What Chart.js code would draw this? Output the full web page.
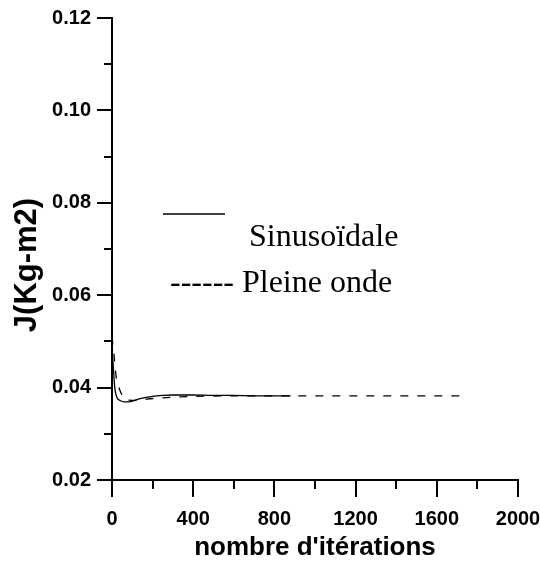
<!DOCTYPE html>
<html>
<head>
<meta charset="utf-8">
<script src="https://cdn.jsdelivr.net/npm/chart.js@4.4.1/dist/chart.umd.min.js"></script>
<style>
  html, body { margin: 0; padding: 0; background: #fff; }
  #wrap { width: 540px; height: 563px; }
</style>
</head>
<body>
<div id="wrap"><canvas id="c" width="540" height="563"></canvas></div>
<script>
// ---- data ----
const sinIter = [0, 5, 10, 15, 25, 40, 60, 80, 100, 150, 200, 250, 300, 400, 500, 600, 700, 800, 880];
const sinJ    = [0.0480, 0.0455, 0.0420, 0.0395, 0.0378, 0.0372, 0.0369, 0.0369, 0.0371, 0.0377, 0.0381, 0.0383, 0.0384, 0.0384, 0.0383, 0.0383, 0.0382, 0.0382, 0.0382];

const pleineIter = [0, 10, 20, 30, 40, 55, 80, 120, 170, 220, 300, 400, 600, 1000, 1400, 1750];
const pleineJ    = [0.0510, 0.0470, 0.0425, 0.0406, 0.0393, 0.0380, 0.0373, 0.0372, 0.0375, 0.0377, 0.0379, 0.0381, 0.0382, 0.0382, 0.0382, 0.0382];

const seriesNames = ['Sinusoïdale', 'Pleine onde'];
const xTitle = "nombre d'itérations";
const yTitle = 'J(Kg-m2)';
const xMajorTicks = [0, 400, 800, 1200, 1600, 2000];
const xMinorTicks = [200, 600, 1000, 1400, 1800];
const yMajorTicks = [0.02, 0.04, 0.06, 0.08, 0.10, 0.12];
const yMinorTicks = [0.03, 0.05, 0.07, 0.09, 0.11];

const toPts = (xs, ys) => xs.map((x, i) => ({ x: x, y: ys[i] }));

const SANS = "'Liberation Sans', Arial, sans-serif";
const SERIF = "'Liberation Serif', 'Times New Roman', serif";

const decorPlugin = {
  id: 'decor',
  afterDraw(chart) {
    const ctx = chart.ctx;
    const xs = chart.scales.x, ys = chart.scales.y;
    const ca = chart.chartArea;
    ctx.save();
    // minor ticks
    ctx.strokeStyle = '#000';
    ctx.lineWidth = 2;
    ctx.beginPath();
    xMinorTicks.forEach(v => {
      const px = Math.round(xs.getPixelForValue(v));
      ctx.moveTo(px, ca.bottom);
      ctx.lineTo(px, ca.bottom + 9);
    });
    yMinorTicks.forEach(v => {
      const py = Math.round(ys.getPixelForValue(v));
      ctx.moveTo(ca.left - 8, py);
      ctx.lineTo(ca.left, py);
    });
    ctx.stroke();

    // y axis title
    ctx.fillStyle = '#000';
    ctx.font = "bold 31px " + SANS;
    ctx.textAlign = 'center';
    ctx.textBaseline = 'middle';
    ctx.translate(27, 265);
    ctx.rotate(-Math.PI / 2);
    ctx.fillText(yTitle, 0, 0);
    ctx.restore();

    // legend (inside plot area)
    ctx.save();
    ctx.strokeStyle = '#000';
    ctx.lineWidth = 1.5;
    ctx.beginPath();
    ctx.moveTo(163, 214);
    ctx.lineTo(225, 214);
    ctx.stroke();
    ctx.fillStyle = '#000';
    ctx.font = "32px " + SERIF;
    ctx.textAlign = 'left';
    ctx.textBaseline = 'alphabetic';
    ctx.fillText(seriesNames[0], 249, 246);
    ctx.fillText('------ ' + seriesNames[1], 170, 292);
    ctx.restore();
  }
};

new Chart(document.getElementById('c'), {
  type: 'line',
  data: {
    datasets: [
      {
        label: seriesNames[0],
        data: toPts(sinIter, sinJ),
        borderColor: '#000',
        borderWidth: 1.3,
        pointRadius: 0,
        fill: false,
        cubicInterpolationMode: 'monotone'
      },
      {
        label: seriesNames[1],
        data: toPts(pleineIter, pleineJ),
        borderColor: '#000',
        borderWidth: 1.3,
        borderDash: [8, 9],
        pointRadius: 0,
        fill: false,
        cubicInterpolationMode: 'monotone'
      }
    ]
  },
  options: {
    responsive: false,
    animation: false,
    devicePixelRatio: 1,
    layout: { padding: { top: 18, right: 22, left: 0, bottom: 0 } },
    plugins: {
      legend: { display: false },
      tooltip: { enabled: false }
    },
    scales: {
      x: {
        type: 'linear',
        min: 0,
        max: 2000,
        afterFit(s) { s.height = 83; s.paddingLeft = 0; s.paddingRight = 0; },
        afterBuildTicks(s) { s.ticks = xMajorTicks.map(v => ({ value: v })); },
        ticks: {
          color: '#000',
          font: { family: SANS, size: 20, weight: 'bold' },
          padding: 10,
          maxRotation: 0,
          autoSkip: false,
          callback: v => String(v)
        },
        grid: {
          display: true,
          drawOnChartArea: false,
          drawTicks: true,
          tickLength: 17,
          color: '#000',
          lineWidth: 2
        },
        border: { display: true, color: '#000', width: 2 },
        title: {
          display: true,
          text: xTitle,
          color: '#000',
          font: { family: SANS, size: 26, weight: 'bold' },
          padding: { top: 0, bottom: 0 }
        }
      },
      y: {
        type: 'linear',
        min: 0.02,
        max: 0.12,
        afterFit(s) { s.width = 112; s.paddingTop = 0; s.paddingBottom = 0; },
        afterBuildTicks(s) { s.ticks = yMajorTicks.map(v => ({ value: v })); },
        ticks: {
          color: '#000',
          font: { family: SANS, size: 20, weight: 'bold' },
          padding: 6,
          callback: v => Number(v).toFixed(2)
        },
        grid: {
          display: true,
          drawOnChartArea: false,
          drawTicks: true,
          tickLength: 15,
          color: '#000',
          lineWidth: 2
        },
        border: { display: true, color: '#000', width: 2 }
      }
    }
  },
  plugins: [decorPlugin]
});
</script>
</body>
</html>
